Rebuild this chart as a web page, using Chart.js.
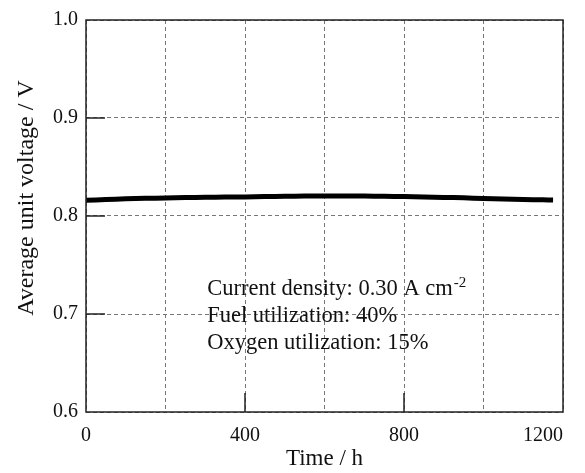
<!DOCTYPE html>
<html>
<head>
<meta charset="utf-8">
<script src="https://cdn.jsdelivr.net/npm/chart.js@4"></script>
<style>
  html, body { margin: 0; padding: 0; background: #fff; }
  #wrap { width: 585px; height: 473px; }
</style>
</head>
<body>
<div id="wrap"><canvas id="grafico" width="585" height="473"></canvas></div>
<script>
// dados
const horas = [0, 50, 100, 150, 200, 250, 300, 350, 400, 450, 500, 550, 600, 650, 700, 750, 800, 850, 900, 950, 1000, 1050, 1100, 1150, 1175];
const tensao = [0.8160, 0.8168, 0.8175, 0.8180, 0.8184, 0.8188, 0.8191, 0.8193, 0.8195, 0.8198, 0.8201, 0.8203, 0.8205, 0.8204, 0.8203, 0.8201, 0.8199, 0.8195, 0.8190, 0.8185, 0.8178, 0.8173, 0.8168, 0.8165, 0.8164];
const ticksX = [0, 400, 800, 1200];
const textoNota = ['Current density: 0.30 A cm', 'Fuel utilization: 40%', 'Oxygen utilization: 15%'];

const fonte = "'Liberation Serif', 'DejaVu Serif', serif";

const moldura = {
  id: 'moldura',
  afterDatasetsDraw(chart) {
    const { ctx, chartArea: a, scales } = chart;
    ctx.save();
    ctx.strokeStyle = '#222';
    ctx.lineWidth = 1.5;
    ctx.strokeRect(a.left, a.top, a.right - a.left, a.bottom - a.top);
    // marcas internas
    [0.7, 0.8, 0.9].forEach(v => {
      const y = scales.y.getPixelForValue(v);
      ctx.beginPath(); ctx.moveTo(a.left, y); ctx.lineTo(a.left + 19, y); ctx.stroke();
    });
    [400, 800].forEach(v => {
      const x = scales.x.getPixelForValue(v);
      ctx.beginPath(); ctx.moveTo(x, a.bottom); ctx.lineTo(x, a.bottom - 19); ctx.stroke();
    });
    // nota
    ctx.fillStyle = '#111';
    ctx.font = '22.5px ' + fonte;
    ctx.textBaseline = 'alphabetic';
    const x0 = scales.x.getPixelForValue(305);
    const y0 = scales.y.getPixelForValue(0.7195);
    textoNota.forEach((t, i) => {
      const yy = y0 + i * 27;
      ctx.fillText(t, x0, yy);
      if (i === 0) {
        const w = ctx.measureText(t).width;
        ctx.font = '15px ' + fonte;
        ctx.fillText('-2', x0 + w + 1, yy - 8);
        ctx.font = '22.5px ' + fonte;
      }
    });
    ctx.restore();
  }
};

const ctxLinha = document.getElementById('grafico').getContext('2d');

let grafico = new Chart(ctxLinha, {
  type: 'line',
  data: {
    datasets: [{
      data: horas.map((h, i) => ({ x: h, y: tensao[i] })),
      borderColor: '#000',
      borderWidth: 5,
      pointRadius: 0,
      tension: 0.3,
      fill: false
    }]
  },
  options: {
    responsive: false,
    animation: false,
    layout: { padding: { top: 13, right: 22, left: 0, bottom: 0 } },
    plugins: {
      legend: { display: false },
      tooltip: { enabled: false }
    },
    scales: {
      x: {
        type: 'linear',
        min: 0,
        max: 1200,
        ticks: {
          stepSize: 200,
          autoSkip: false,
          maxRotation: 0,
          color: '#111',
          font: { family: fonte, size: 20 },
          padding: 12,
          callback: v => ticksX.includes(v) ? (v === 1200 ? '1200        ' : String(v)) : ''
        },
        grid: {
          color: '#777',
          lineWidth: 1,
          drawTicks: false
        },
        border: { display: false, dash: [4, 3] },
        title: {
          display: true,
          text: 'Time / h',
          color: '#111',
          font: { family: fonte, size: 23 },
          padding: { top: 0, bottom: 0 }
        },
        afterFit(s) { s.height = 61; s.paddingRight = 0; s.paddingLeft = 0; }
      },
      y: {
        min: 0.6,
        max: 1.0,
        ticks: {
          stepSize: 0.1,
          color: '#111',
          font: { family: fonte, size: 20 },
          padding: 8,
          callback: v => v.toFixed(1)
        },
        grid: {
          color: '#777',
          lineWidth: 1,
          drawTicks: false
        },
        border: { display: false, dash: [4, 3] },
        title: {
          display: true,
          text: '      Average unit voltage / V',
          color: '#111',
          font: { family: fonte, size: 24 },
          padding: { top: 12, bottom: 6 }
        },
        afterFit(s) { s.width = 86; }
      }
    }
  },
  plugins: [moldura]
});
</script>
</body>
</html>
